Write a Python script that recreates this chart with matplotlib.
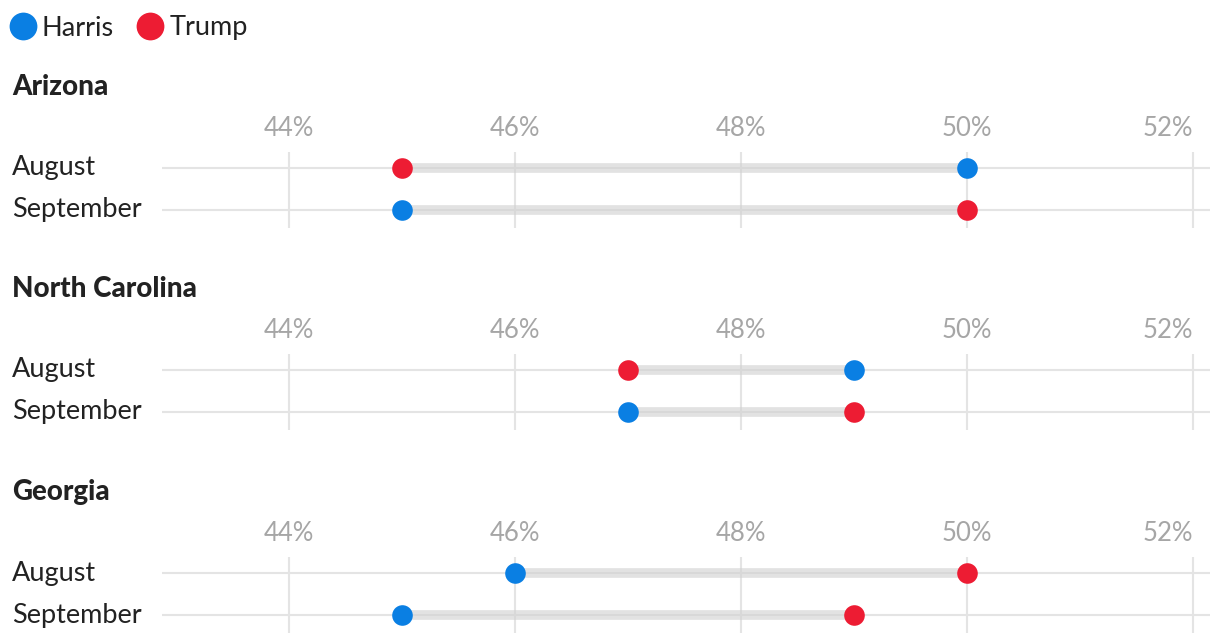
import matplotlib
matplotlib.use('Agg')
import matplotlib.pyplot as plt
import matplotlib.transforms as mtransforms
from matplotlib.lines import Line2D

plt.rcParams['font.family'] = ['Lato', 'DejaVu Sans']

# poll numbers, percent
states = ['Arizona', 'North Carolina', 'Georgia']
months = ['August', 'September']
harris = [[50, 45], [49, 47], [46, 45]]
trump = [[45, 50], [47, 49], [50, 49]]
ticks = [44, 46, 48, 50, 52]
tick_labels = ['44%', '46%', '48%', '50%', '52%']

blue = '#0a7fe3'
red = '#ed1c33'
W, H = 1220, 644

fig = plt.figure(figsize=(W / 100, H / 100), dpi=100)

def fx(px):
    return px / W

def fy(py):
    return 1 - py / H

panel_tops = [152, 354, 557]
for k, state in enumerate(states):
    top = panel_tops[k]
    ax = fig.add_axes([fx(162), fy(top + 76), fx(1210) - fx(162), 76 / H])
    ax.set_xlim(44 - 127 / 113, 52 + 17 / 113)
    ax.set_ylim(1 + 18 / 42, -16 / 42)
    for s in ax.spines.values():
        s.set_visible(False)
    ax.set_yticks([])
    ax.xaxis.tick_top()
    ax.set_xticks(ticks)
    ax.set_xticklabels(tick_labels)
    ax.tick_params(axis='x', length=0, pad=8, labelsize=18.5, labelcolor='#a6a6a6')
    ax.get_xticklabels()[-1].set_ha('right')
    ax.grid(axis='x', color='#e4e4e4', lw=1.5, zorder=0)
    ax.set_axisbelow(True)

    for i, m in enumerate(months):
        ax.axhline(i, color='#e4e4e4', lw=1.5, zorder=1)
        ax.plot([harris[k][i], trump[k][i]], [i, i], color='#d0d0d0', alpha=0.6,
                lw=7, solid_capstyle='butt', zorder=2)
        ax.scatter([harris[k][i]], [i], s=220, color=blue, zorder=3, lw=0)
        ax.scatter([trump[k][i]], [i], s=220, color=red, zorder=3, lw=0)
        tr = mtransforms.blended_transform_factory(fig.transFigure, ax.transData)
        ax.text(fx(12), i, m, transform=tr, ha='left', va='center',
                fontsize=19.5, color='#222222')

    fig.text(fx(12), fy(top - 65), state, ha='left', va='center',
             fontsize=20, fontweight='black', color='#222222')

handles = [Line2D([], [], marker='o', ls='', color=blue, markersize=20, mew=0),
           Line2D([], [], marker='o', ls='', color=red, markersize=20, mew=0)]
fig.legend(handles, ['Harris', 'Trump'], loc='center left', bbox_to_anchor=(fx(9), fy(28)),
           ncol=2, frameon=False, fontsize=19.5, handlelength=1.0, handletextpad=0.2,
           columnspacing=0.85, labelcolor='#222222', borderaxespad=0, borderpad=0)

fig.savefig('out.png', dpi=100, facecolor='white')
